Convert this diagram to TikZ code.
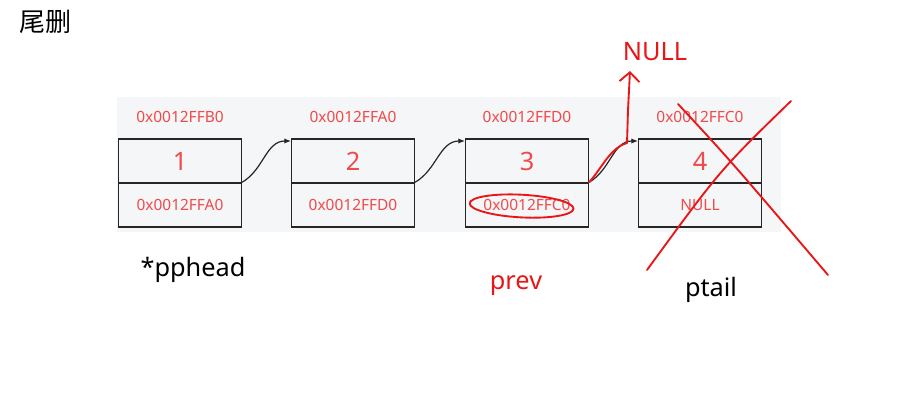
\documentclass[tikz,border=0pt]{standalone}
\usepackage{fontspec}
\setmainfont{Noto Sans}
\newfontfamily\cjkfont{Noto Sans CJK SC}
\usetikzlibrary{arrows.meta,calc}
\definecolor{panelgray}{RGB}{245,246,248}
\definecolor{addrred}{RGB}{240,74,74}
\definecolor{penred}{RGB}{232,22,22}

\tikzset{
  cell/.style={draw=black!85, line width=1pt, minimum width=92pt, minimum height=33pt, inner sep=0pt},
  addr/.style={text=addrred, font=\fontsize{11.6}{13}\selectfont},
  num/.style={text=addrred, font=\fontsize{19}{22}\selectfont},
  link/.style={black!85, line width=0.9pt, -{Latex[length=5pt,width=4pt]}},
  pen/.style={penred, line width=1.4pt, line cap=round, line join=round},
  caption/.style={font=\fontsize{19}{22}\selectfont},
}

\begin{document}
\begin{tikzpicture}[x=0.75pt, y=-0.75pt]
    \useasboundingbox (0,0) rectangle (921,400);

    % --- title ---
    \node[font=\cjkfont\fontsize{19.5}{22}\selectfont] (title) at (45,22) {尾删};

    % --- light panel behind the list ---
    \fill[panelgray] (117,97) rectangle (781,232);

    % --- nodes of the list ---
    \foreach \i/\x/\selfaddr/\nextaddr in {1/180/0x0012FFB0/0x0012FFA0, 2/353/0x0012FFA0/0x0012FFD0, 3/527/0x0012FFD0/0x0012FFC0, 4/700/0x0012FFC0/NULL} {
        \node[addr] (a\i) at (\x,117) {\selfaddr};
        \node[cell, num] (t\i) at (\x,161) {\i};
        \node[cell, addr] (b\i) at (\x,205) {\nextaddr};
    }

    % --- next pointers ---
    \foreach \i/\j in {1/2, 2/3, 3/4}
        \draw[link] (b\i.north east) to[out=30, in=180] ([yshift=-2pt]t\j.north west);

    % --- pointer names ---
    \node[caption] (pphead) at (193,270) {*pphead};
    \node[caption, text=penred] (prev) at (516,286) {prev};
    \node[caption] (ptail) at (711,290) {ptail};

    % --- hand-drawn marks ---
    \node[text=penred, font=\fontsize{19}{22}\selectfont] (null) at (655,52) {NULL};
    \coordinate (nulltip) at (630,71);
    \draw[pen, -{Straight Barb[length=7pt, width=15pt]}] (b3.north east)
        .. controls (602,168) and (610,148) .. (627,143) -- (628,110) -- (nulltip);
    \draw[pen, rotate around={-3:(b3.center)}] ([xshift=-4pt, yshift=-1pt]b3.center) ellipse [x radius=39pt, y radius=8.5pt];
    \draw[pen] (678,104) .. controls (730,160) .. (828,275);
    \draw[pen] (791,101) .. controls (720,170) .. (647,270);
\end{tikzpicture}
\end{document}
